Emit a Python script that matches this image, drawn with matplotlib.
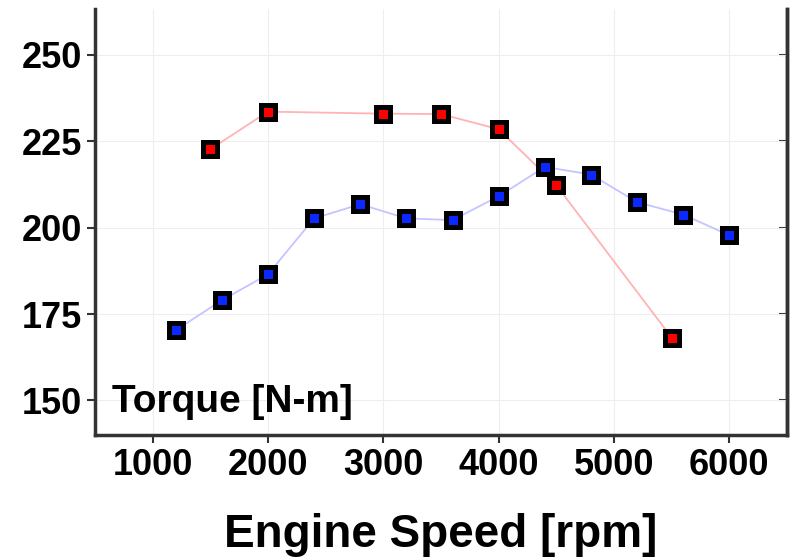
import matplotlib
matplotlib.use("Agg")
import matplotlib.pyplot as plt

# Data
red_rpm = [1500, 2000, 3000, 3500, 4000, 4500, 5500]
red_torque = [222.7, 233.6, 233.0, 232.9, 228.5, 212.3, 168.2]
blue_rpm = [1200, 1600, 2000, 2400, 2800, 3200, 3600, 4000, 4400, 4800, 5200, 5600, 6000]
blue_torque = [170.3, 179.0, 186.5, 202.7, 206.8, 202.7, 202.2, 209.1, 217.6, 215.4, 207.4, 203.8, 197.8]
x_ticks = [1000, 2000, 3000, 4000, 5000, 6000]
y_ticks = [150, 175, 200, 225, 250]

plt.rcParams['font.family'] = ['Liberation Sans', 'DejaVu Sans']
plt.rcParams['font.weight'] = 'bold'

fig = plt.figure(figsize=(7.96, 5.6), dpi=100)
ax = fig.add_axes([0.1193, 0.2232, 0.8694, 0.7607])

ax.plot(red_rpm, red_torque, color='#ffb3b3', lw=1.3, zorder=2)
ax.plot(blue_rpm, blue_torque, color='#c4c4ff', lw=1.3, zorder=2)
ax.plot(red_rpm, red_torque, ls='none', marker='s', ms=9.5, mew=3.6,
        mfc='#ff0000', mec='#000000', zorder=3)
ax.plot(blue_rpm, blue_torque, ls='none', marker='s', ms=9.5, mew=3.6,
        mfc='#0a28ff', mec='#000000', zorder=3)

ax.set_xlim(500, 6500)
ax.set_ylim(140, 263.3)
ax.set_xticks(x_ticks)
ax.set_yticks(y_ticks)
ax.grid(True, color='#eeeeee', lw=0.8)
ax.set_axisbelow(True)

for s in ['left', 'right', 'bottom']:
    ax.spines[s].set_linewidth(2.5)
    ax.spines[s].set_color('#333333')
ax.spines['top'].set_visible(False)

ax.tick_params(axis='both', which='major', labelsize=26, length=6, width=1.5,
               direction='out', pad=3, color='#333333')
for lab in ax.get_xticklabels() + ax.get_yticklabels():
    lab.set_fontweight('bold')

sec = ax.secondary_yaxis('right')
sec.set_yticks(y_ticks)
sec.tick_params(direction='in', length=6, width=1.5, labelright=False, color='#333333')
sec.spines['right'].set_linewidth(2.5)
sec.spines['right'].set_color('#333333')

ax.set_xlabel('Engine Speed [rpm]', fontsize=33, fontweight='bold', labelpad=22)
ax.text(0.025, 0.078, 'Torque [N-m]', transform=ax.transAxes, fontsize=28,
        fontweight='bold', ha='left', va='center')

fig.savefig('out.png', dpi=100)
